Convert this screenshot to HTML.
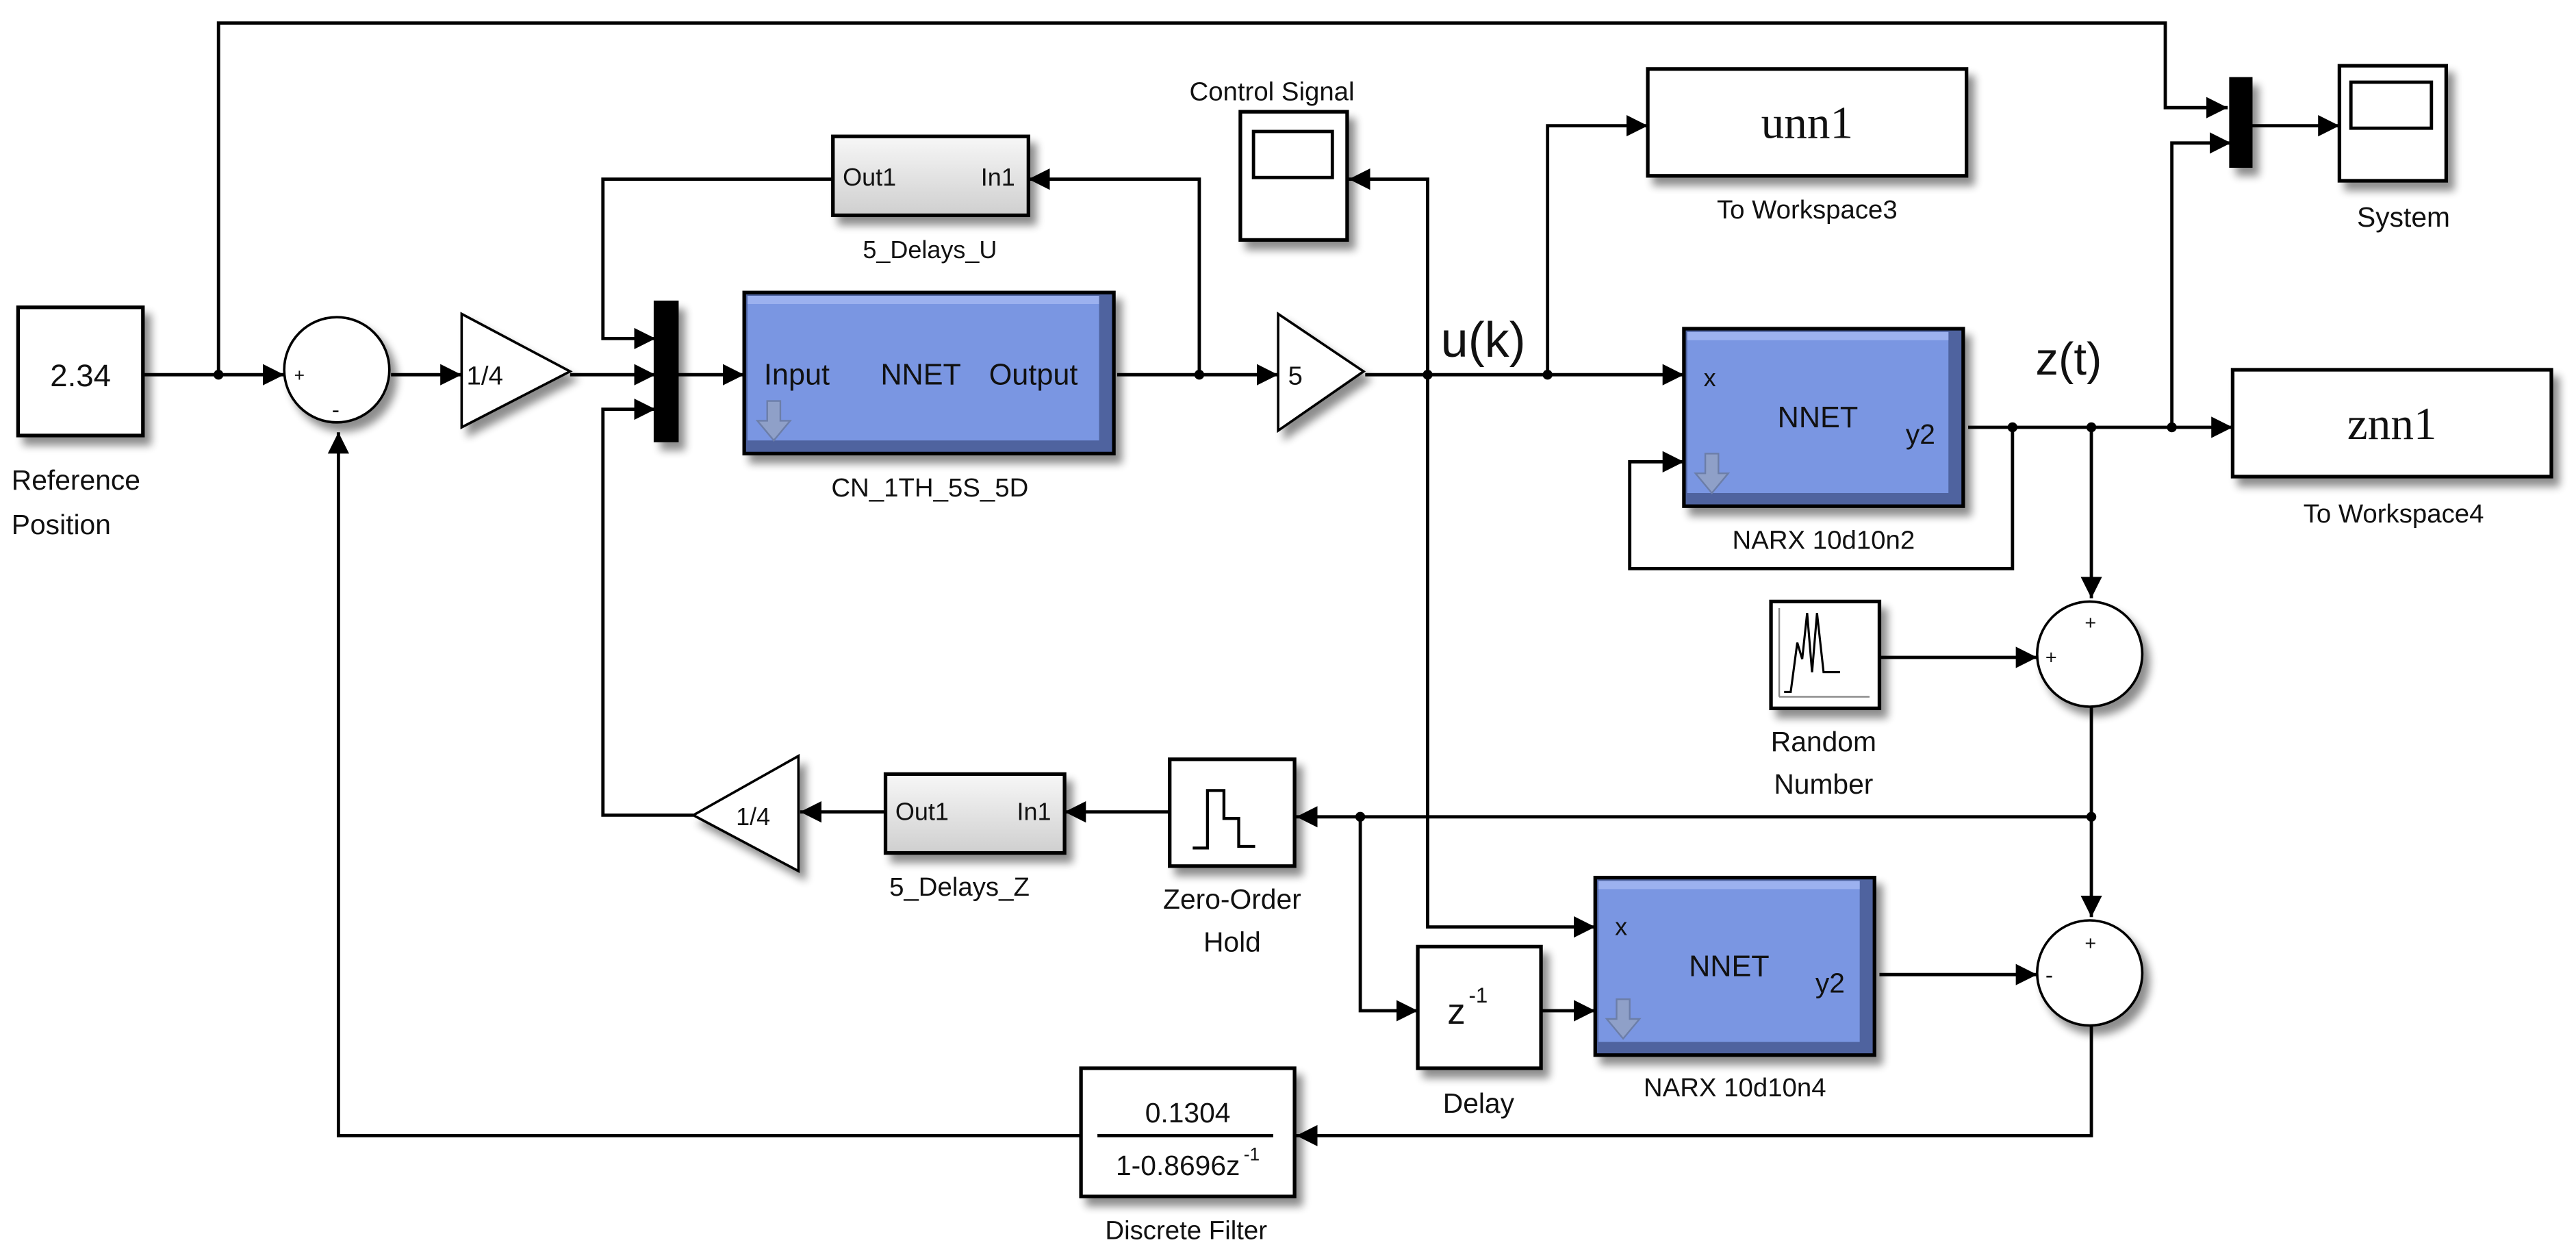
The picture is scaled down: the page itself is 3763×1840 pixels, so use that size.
<!DOCTYPE html>
<html><head><meta charset="utf-8"><style>
html,body{margin:0;padding:0;background:#fff;}
svg{display:block;}
text{font-family:"Liberation Sans",Arial,sans-serif;fill:#111;}
</style></head><body>
<svg width="3763" height="1840" viewBox="0 0 1568 766.67" preserveAspectRatio="none" xmlns="http://www.w3.org/2000/svg">
<defs>
<marker id="a" markerUnits="userSpaceOnUse" markerWidth="16" markerHeight="16" refX="13" refY="8" orient="auto"><path d="M0,1.5 L13,8 L0,14.5 Z" fill="#000"/></marker>
<filter id="sh" x="-10%" y="-10%" width="130%" height="140%"><feGaussianBlur in="SourceAlpha" stdDeviation="2.5"/><feOffset dx="4" dy="5"/><feComponentTransfer><feFuncA type="linear" slope="0.45"/></feComponentTransfer><feMerge><feMergeNode/><feMergeNode in="SourceGraphic"/></feMerge></filter>
<linearGradient id="gr" x1="0" y1="0" x2="0" y2="1"><stop offset="0" stop-color="#f7f7f7"/><stop offset="1" stop-color="#cfcfcf"/></linearGradient>
</defs>
<g fill="none" stroke="#000" stroke-width="2">
<path d="M133,228 V14 H1318 V65.5 H1356" marker-end="url(#a)"/>
<path d="M88,228 H173" marker-end="url(#a)"/>
<path d="M238,228 H281" marker-end="url(#a)"/>
<path d="M347,228 H399" marker-end="url(#a)"/>
<path d="M412,228 H453" marker-end="url(#a)"/>
<path d="M680,228 H778" marker-end="url(#a)"/>
<path d="M730,228 V109 H626" marker-end="url(#a)"/>
<path d="M507,109 H367 V206 H399" marker-end="url(#a)"/>
<path d="M422,496 H367 V249 H399" marker-end="url(#a)"/>
<path d="M831,228 H1025" marker-end="url(#a)"/>
<path d="M869,228 V109 H821" marker-end="url(#a)"/>
<path d="M869,228 V564 H971" marker-end="url(#a)"/>
<path d="M942,228 V76.5 H1003" marker-end="url(#a)"/>
<path d="M1198,260 H1359" marker-end="url(#a)"/>
<path d="M1225,260 V346 H992 V281 H1025" marker-end="url(#a)"/>
<path d="M1273,260 V364" marker-end="url(#a)"/>
<path d="M1322,260 V87 H1358" marker-end="url(#a)"/>
<path d="M1370,76.5 H1424" marker-end="url(#a)"/>
<path d="M1144,400 H1240" marker-end="url(#a)"/>
<path d="M1273,430 V558" marker-end="url(#a)"/>
<path d="M1273,497 H789" marker-end="url(#a)"/>
<path d="M828,497 V615 H863" marker-end="url(#a)"/>
<path d="M938,615 H971" marker-end="url(#a)"/>
<path d="M1144,593 H1240" marker-end="url(#a)"/>
<path d="M1273,624 V691 H789" marker-end="url(#a)"/>
<path d="M712,494 H648" marker-end="url(#a)"/>
<path d="M539,494 H487" marker-end="url(#a)"/>
<path d="M658,691 H206 V263" marker-end="url(#a)"/>
</g>
<g fill="#000">
<circle cx="133" cy="228" r="3"/><circle cx="730" cy="228" r="3"/><circle cx="869" cy="228" r="3"/><circle cx="942" cy="228" r="3"/>
<circle cx="1225" cy="260" r="3"/><circle cx="1273" cy="260" r="3"/><circle cx="1322" cy="260" r="3"/>
<circle cx="1273" cy="497" r="3"/><circle cx="828" cy="497" r="3"/>
</g>
<g stroke="#000" stroke-width="2.2" filter="url(#sh)">
<rect x="11" y="187" width="76" height="78" fill="#fff"/>
<ellipse cx="205" cy="225" rx="32" ry="32" fill="#fff" stroke-width="1.5"/>
<polygon points="281,191 347,226 281,260" fill="#fff" stroke-width="1.5"/>
<rect x="399" y="184" width="13" height="84" fill="#000"/>
<rect x="507" y="83" width="119" height="48" fill="url(#gr)"/>
<rect x="755" y="68" width="65" height="78" fill="#fff"/>
<polygon points="778,191 830,226 778,262" fill="#fff" stroke-width="1.5"/>
<rect x="1003" y="42" width="194" height="65" fill="#fff"/>
<rect x="1358" y="48" width="12" height="53" fill="#000"/>
<rect x="1424" y="40" width="65" height="70" fill="#fff"/>
<rect x="1359" y="225" width="194" height="65" fill="#fff"/>
<rect x="1078" y="366" width="66" height="65" fill="#fff"/>
<ellipse cx="1272" cy="398" rx="32" ry="32" fill="#fff" stroke-width="1.5"/>
<ellipse cx="1272" cy="592" rx="32" ry="32" fill="#fff" stroke-width="1.5"/>
<polygon points="486,460 422,496 486,530" fill="#fff" stroke-width="1.5"/>
<rect x="539" y="471" width="109" height="48" fill="url(#gr)"/>
<rect x="712" y="462" width="76" height="65" fill="#fff"/>
<rect x="863" y="576" width="75" height="74" fill="#fff"/>
<rect x="658" y="650" width="130" height="78" fill="#fff"/>
</g>
<g filter="url(#sh)">
<rect x="453" y="178" width="225" height="98" fill="#4f649f" stroke="#000" stroke-width="2.2"/>
<rect x="455" y="180" width="214" height="88" fill="#7a96e2"/>
<rect x="455" y="180" width="214" height="5" fill="#9cb1ef"/>
<rect x="1025" y="200" width="170" height="108" fill="#4f649f" stroke="#000" stroke-width="2.2"/>
<rect x="1027" y="202" width="159" height="98" fill="#7a96e2"/>
<rect x="1027" y="202" width="159" height="5" fill="#9cb1ef"/>
<rect x="971" y="534" width="170" height="108" fill="#4f649f" stroke="#000" stroke-width="2.2"/>
<rect x="973" y="536" width="159" height="98" fill="#7a96e2"/>
<rect x="973" y="536" width="159" height="5" fill="#9cb1ef"/>
</g>
<g fill="#8fa0c8" stroke="#6c7ea8" stroke-width="1">
<path d="M467,244 h8 v12 h6 l-10,12 l-10,-12 h6 z"/>
<path d="M1038,276 h8 v12 h6 l-10,12 l-10,-12 h6 z"/>
<path d="M984,608 h8 v12 h6 l-10,12 l-10,-12 h6 z"/>
</g>
<rect x="763" y="80" width="48" height="28" fill="#fff" stroke="#000" stroke-width="2"/>
<rect x="1431" y="50" width="49" height="28" fill="#fff" stroke="#000" stroke-width="2"/>
<path d="M1086,421 h4 l4,-30 l3,10 l3,-28 l3,36 l3,-36 l4,36 h10" fill="none" stroke="#000" stroke-width="1.3"/>
<path d="M1083,424 H1138" stroke="#888" stroke-width="1"/>
<path d="M1083,370 V424" stroke="#888" stroke-width="1"/>
<path d="M726,516 h9 v-35 h10 v17 h9 v17 h10" fill="none" stroke="#000" stroke-width="1.8"/>
<path d="M668,691 H775" stroke="#000" stroke-width="2"/>
<text x="49" y="235" font-size="19" text-anchor="middle">2.34</text>
<text x="7" y="298" font-size="17">Reference</text>
<text x="7" y="325" font-size="17">Position</text>
<text x="179" y="232" font-size="11">+</text>
<text x="202" y="254" font-size="14">-</text>
<text x="284" y="234" font-size="16">1/4</text>
<text x="513" y="113" font-size="15">Out1</text>
<text x="597" y="113" font-size="15">In1</text>
<text x="566" y="157" font-size="15" text-anchor="middle">5_Delays_U</text>
<text x="465" y="234" font-size="18">Input</text>
<text x="536" y="234" font-size="18">NNET</text>
<text x="602" y="234" font-size="18">Output</text>
<text x="566" y="302" font-size="16" text-anchor="middle">CN_1TH_5S_5D</text>
<text x="724" y="61" font-size="16">Control Signal</text>
<text x="784" y="234" font-size="16">5</text>
<text x="877" y="217" font-size="30">u(k)</text>
<text x="1100" y="84" font-size="28" text-anchor="middle" style="font-family:'Liberation Serif',serif">unn1</text>
<text x="1100" y="133" font-size="16" text-anchor="middle">To Workspace3</text>
<text x="1463" y="138" font-size="17" text-anchor="middle">System</text>
<text x="1037" y="235" font-size="15">x</text>
<text x="1082" y="260" font-size="18">NNET</text>
<text x="1160" y="270" font-size="17">y2</text>
<text x="1110" y="334" font-size="16" text-anchor="middle">NARX 10d10n2</text>
<text x="1239" y="228" font-size="28">z(t)</text>
<text x="1456" y="267" font-size="28" text-anchor="middle" style="font-family:'Liberation Serif',serif">znn1</text>
<text x="1457" y="318" font-size="16" text-anchor="middle">To Workspace4</text>
<text x="1269" y="383" font-size="12">+</text>
<text x="1245" y="404" font-size="12">+</text>
<text x="1110" y="457" font-size="17" text-anchor="middle">Random</text>
<text x="1110" y="483" font-size="17" text-anchor="middle">Number</text>
<text x="1269" y="578" font-size="12">+</text>
<text x="1245" y="598" font-size="14">-</text>
<text x="983" y="569" font-size="15">x</text>
<text x="1028" y="594" font-size="18">NNET</text>
<text x="1105" y="604" font-size="17">y2</text>
<text x="1056" y="667" font-size="16" text-anchor="middle">NARX 10d10n4</text>
<text x="881" y="623" font-size="22">z</text>
<text x="894" y="610" font-size="13">-1</text>
<text x="900" y="677" font-size="17" text-anchor="middle">Delay</text>
<text x="448" y="502" font-size="15">1/4</text>
<text x="545" y="499" font-size="15">Out1</text>
<text x="619" y="499" font-size="15">In1</text>
<text x="584" y="545" font-size="16" text-anchor="middle">5_Delays_Z</text>
<text x="750" y="553" font-size="17" text-anchor="middle">Zero-Order</text>
<text x="750" y="579" font-size="17" text-anchor="middle">Hold</text>
<text x="723" y="683" font-size="17" text-anchor="middle">0.1304</text>
<text x="717" y="715" font-size="17" text-anchor="middle">1-0.8696z</text>
<text x="757" y="706" font-size="11">-1</text>
<text x="722" y="754" font-size="16" text-anchor="middle">Discrete Filter</text>
</svg>
</body></html>
